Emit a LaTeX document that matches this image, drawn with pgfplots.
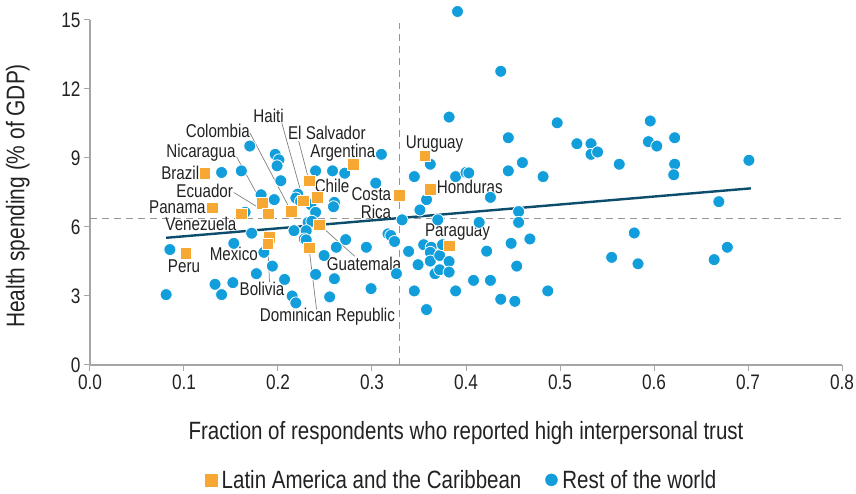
\documentclass[border=0pt]{standalone}
\usepackage{pgfplots}
\pgfplotsset{compat=1.18}
\usepackage{fontspec}
\setmainfont{Liberation Sans}[FakeStretch=0.82]
\definecolor{row}{RGB}{17,158,218}
\definecolor{lac}{RGB}{247,168,51}
\definecolor{trend}{RGB}{12,76,108}
\definecolor{axgray}{RGB}{166,166,166}
\definecolor{dashgray}{RGB}{150,150,150}
\definecolor{txt}{RGB}{34,34,34}

% rest of the world
\pgfplotstableread{
x y
0.081 3.06
0.085 5.02
0.133 3.51
0.140 3.06
0.152 3.58
0.153 5.29
0.140 8.37
0.161 8.44
0.170 9.52
0.197 9.16
0.201 8.92
0.199 8.66
0.203 8.01
0.165 6.64
0.172 5.73
0.182 7.40
0.196 7.19
0.185 4.90
0.194 4.30
0.177 3.97
0.207 3.72
0.215 3.00
0.219 2.70
0.221 7.43
0.219 7.26
0.224 7.11
0.235 6.97
0.240 6.64
0.240 8.44
0.258 8.44
0.271 8.34
0.260 7.07
0.259 6.88
0.232 6.20
0.236 6.25
0.217 5.84
0.230 5.84
0.228 5.48
0.230 5.44
0.272 5.45
0.249 4.76
0.262 5.12
0.240 3.94
0.260 3.75
0.255 2.96
0.294 5.12
0.299 3.32
0.310 9.16
0.304 7.91
0.317 5.70
0.320 5.63
0.324 5.37
0.326 3.97
0.332 6.31
0.339 4.94
0.345 8.19
0.345 3.22
0.349 4.36
0.351 6.74
0.355 5.23
0.358 7.19
0.358 2.41
0.362 8.73
0.363 5.12
0.362 4.90
0.362 4.52
0.367 3.97
0.370 6.31
0.372 4.76
0.372 4.14
0.375 5.23
0.382 10.78
0.382 4.50
0.382 4.04
0.389 8.19
0.389 3.22
0.391 15.37
0.400 8.37
0.403 8.35
0.408 3.68
0.414 6.20
0.422 4.95
0.426 7.29
0.426 3.68
0.437 12.77
0.437 2.86
0.445 9.88
0.445 8.44
0.448 5.29
0.452 2.77
0.454 4.30
0.456 6.67
0.456 6.20
0.460 8.80
0.468 5.48
0.482 8.19
0.487 3.22
0.497 10.53
0.518 9.62
0.533 9.62
0.533 9.16
0.540 9.26
0.563 8.73
0.555 4.68
0.579 5.74
0.583 4.40
0.594 9.71
0.596 10.61
0.603 9.52
0.622 9.88
0.622 8.73
0.621 8.27
0.664 4.58
0.669 7.10
0.678 5.12
0.701 8.90
}\rowdata

% Latin America and the Caribbean
\pgfplotstableread{
x y
0.122 8.34
0.130 6.83
0.102 4.86
0.161 6.57
0.183 7.03
0.190 6.57
0.191 5.55
0.189 5.27
0.214 6.68
0.227 7.14
0.233 8.01
0.242 7.29
0.244 6.10
0.233 5.10
0.280 8.73
0.329 7.39
0.356 9.09
0.362 7.65
0.382 5.19
}\lacdata

\begin{document}
\begin{tikzpicture}[
  lead/.style={draw=gray, line width=0.7pt},
  lab/.style={font=\fontsize{18.5}{20}\selectfont, text=txt, inner sep=0pt}]
\begin{axis}[
  scale only axis, width=752pt, height=345pt,
  xmin=0, xmax=0.8, ymin=0, ymax=15,
  xtick={0,0.1,0.2,0.3,0.4,0.5,0.6,0.7,0.8},
  ytick={0,3,6,9,12,15},
  axis lines=left,
  axis line style={-, axgray, line width=1.2pt},
  tick style={axgray, line width=1pt},
  tick align=outside, major tick length=6pt,
  /pgf/number format/assume math mode=true,
  x tick label style={/pgf/number format/fixed, /pgf/number format/fixed zerofill, /pgf/number format/precision=1},
  tick label style={font=\fontsize{21}{24}\selectfont, text=txt},
  xlabel={Fraction of respondents who reported high interpersonal trust},
  ylabel={Health spending (\% of GDP)},
  xlabel style={at={(axis description cs:0.5,-0.197)}, anchor=center, font=\fontsize{25}{28}\selectfont, text=txt},
  ylabel style={at={(axis description cs:-0.096,0.49)}, anchor=center, font=\fontsize{25.5}{28}\selectfont, text=txt},
  legend style={at={(axis description cs:0.494,-0.333)}, anchor=center, draw=none, fill=none,
    legend columns=2, font=\fontsize{25}{28}\selectfont, text=txt,
    /tikz/every odd column/.append style={column sep=3pt},
    /tikz/every even column/.append style={column sep=22pt}},
  legend cell align=left,
  clip=false,
]
\addlegendimage{only marks, mark=square*, mark size=6pt, mark options={fill=lac, draw=lac}}
\addlegendentry{Latin America and the Caribbean}
\addlegendimage{only marks, mark=*, mark size=6pt, mark options={fill=row, draw=row}}
\addlegendentry{Rest of the world}

\addplot[forget plot, dashgray, line width=1.2pt, dash pattern=on 7pt off 5pt] coordinates {(0,6.36) (0.8,6.36)};
\addplot[forget plot, dashgray, line width=1.2pt, dash pattern=on 7pt off 5pt] coordinates {(0.329,0) (0.329,14.87)};
\addplot[forget plot, trend, line width=2.4pt] coordinates {(0.081,5.53) (0.703,7.68)};

\addplot[forget plot, only marks, mark=*, mark size=6pt, mark options={fill=row, draw=white, line width=0.8pt}] table {\rowdata};

% leader lines
\draw[lead] (axis cs:0.204,10.53) -- (axis cs:0.227,7.14);
\draw[lead] (axis cs:0.170,10.10) -- (axis cs:0.214,6.68);
\draw[lead] (axis cs:0.222,9.74) -- (axis cs:0.233,8.01);
\draw[lead] (axis cs:0.156,9.05) -- (axis cs:0.183,7.03);
\draw[lead] (axis cs:0.153,7.50) -- (axis cs:0.190,6.57);
\draw[lead] (axis cs:0.191,3.61) -- (axis cs:0.189,5.27);
\draw[lead] (axis cs:0.2816,4.73) -- (axis cs:0.244,6.10);
\draw[lead] (axis cs:0.241,2.42) -- (axis cs:0.233,5.10);

\addplot[forget plot, only marks, mark=square*, mark size=5.8pt, mark options={fill=lac, draw=white, line width=0.6pt}] table {\lacdata};

% country labels
\node[lab] at (axis cs:0.190,10.82) {Haiti};
\node[lab] at (axis cs:0.136,10.20) {Colombia};
\node[lab] at (axis cs:0.252,10.07) {El Salvador};
\node[lab] at (axis cs:0.269,9.23) {Argentina};
\node[lab] at (axis cs:0.118,9.23) {Nicaragua};
\node[lab] at (axis cs:0.096,8.37) {Brazil};
\node[lab] at (axis cs:0.122,7.58) {Ecuador};
\node[lab] at (axis cs:0.093,6.85) {Panama};
\node[lab] at (axis cs:0.118,6.13) {Venezuela};
\node[lab] at (axis cs:0.2575,7.79) {Chile};
\node[lab, anchor=east] at (axis cs:0.3206,7.42) {Costa};
\node[lab, anchor=east] at (axis cs:0.3206,6.66) {Rica};
\node[lab] at (axis cs:0.100,4.29) {Peru};
\node[lab] at (axis cs:0.153,4.84) {Mexico};
\node[lab] at (axis cs:0.183,3.29) {Bolivia};
\node[lab] at (axis cs:0.2915,4.40) {Guatemala};
\node[lab] at (axis cs:0.2526,2.09) {Dominican Republic};
\node[lab] at (axis cs:0.3666,9.62) {Uruguay};
\node[lab] at (axis cs:0.404,7.75) {Honduras};
\node[lab] at (axis cs:0.391,5.77) {Paraguay};
\end{axis}
\pgfresetboundingbox
\path[use as bounding box] (current axis.south west) ++(-90pt,-129pt) rectangle ++(856pt,494pt);
\end{tikzpicture}
\end{document}
